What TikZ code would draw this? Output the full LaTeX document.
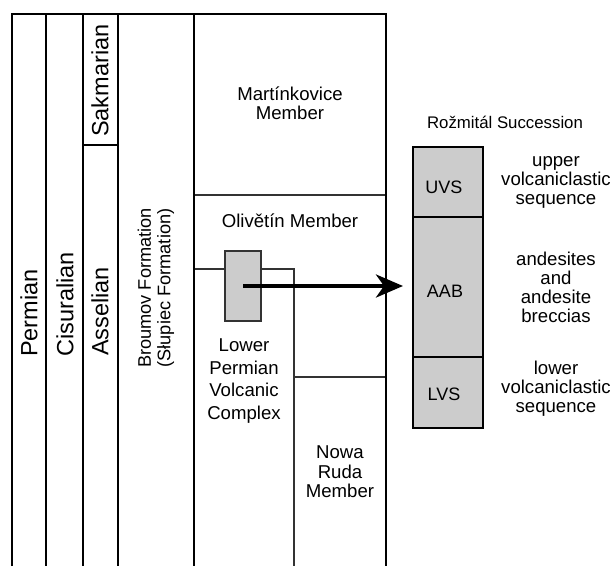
\documentclass[tikz,border=0pt]{standalone}
\usepackage{fontspec}
\setmainfont{Liberation Sans}
\usetikzlibrary{arrows.meta}
\definecolor{boxgray}{HTML}{CCCCCC}
\definecolor{linegray}{HTML}{333333}
\begin{document}
\begin{tikzpicture}[x=1pt,y=-1pt,
  frame/.style={line width=2pt, black},
  inner/.style={line width=1.5pt, linegray},
  txt/.style={font=\fontsize{18.6}{19}\selectfont, align=center, inner sep=0pt},
  big/.style={font=\fontsize{23.5}{25}\selectfont, inner sep=0pt, rotate=90, anchor=west},
  unit/.style={draw=black, line width=1.8pt, fill=boxgray, minimum width=70pt, inner sep=0pt},
  unitlabel/.style={inner sep=0pt, font=\fontsize{18}{19}\selectfont},
  link/.style={line width=4pt, -{Stealth[length=27pt,width=23pt,inset=8pt]}}]
\useasboundingbox (0,0) rectangle (614,566);

% inner lines of the member column
\draw[inner] (194,195) -- (386,195);
\draw[inner] (194,269) -- (294,269) -- (294,566);
\draw[inner] (294,377) -- (386,377);

% main frame and column lines
\draw[frame] (12,566) -- (12,14) -- (386,14) -- (386,566);
\draw[frame] (46,14) -- (46,566);
\draw[frame] (83,14) -- (83,566);
\draw[frame] (118,14) -- (118,566);
\draw[frame] (194,14) -- (194,566);
\draw[frame] (83,145) -- (118,145);

% rotated stratigraphic names
\node[big] (perm) at (29,357) {Permian};
\node[big] (cisu) at (65,357) {Cisuralian};
\node[big] (asse) at (100,356) {Asselian};
\node[big] (sakm) at (100,137) {Sakmarian};
\node[txt, rotate=90, font=\fontsize{18.2}{19.5}\selectfont] (brou) at (156,288) {Broumov Formation\\(Słupiec Formation)};

% members
\node[txt, font=\fontsize{18.6}{18.5}\selectfont] (mart) at (290,103) {Martínkovice\\Member};
\node[txt] (oliv) at (290,221) {Olivětín Member};
\node[txt, font=\fontsize{18.6}{22.6}\selectfont] (lpvc) at (244,381) {Lower\\Permian\\Volcanic\\Complex};
\node[txt, font=\fontsize{18.6}{19.5}\selectfont] (nowa) at (340,472) {Nowa\\Ruda\\Member};

% sampled unit
\node[draw=linegray, line width=1.5pt, fill=boxgray, minimum width=36pt, minimum height=70pt, inner sep=0pt] (gb) at (243,286) {};

% Rozmital succession
\node[txt, font=\fontsize{16.8}{18}\selectfont] (roz) at (505,122) {Rožmitál Succession};
\node[unit, minimum height=70pt] (uvs) at (448,182) {};
\node[unit, minimum height=140pt] (aab) at (448,287) {};
\node[unit, minimum height=71pt] (lvs) at (448,392.5) {};
\node[unitlabel] (uvsl) at (444,187) {UVS};
\node[unitlabel] (aabl) at (445,291) {AAB};
\node[unitlabel] (lvsl) at (444,394) {LVS};
\node[txt] (uvst) at (556,182) {upper\\volcaniclastic\\sequence};
\node[txt] (aabt) at (556,287) {andesites\\and\\andesite\\breccias};
\node[txt] (lvst) at (556,389) {lower\\volcaniclastic\\sequence};

% arrow
\coordinate (tip) at (403,286);
\draw[link] (gb.center) -- (tip);
\end{tikzpicture}
\end{document}
